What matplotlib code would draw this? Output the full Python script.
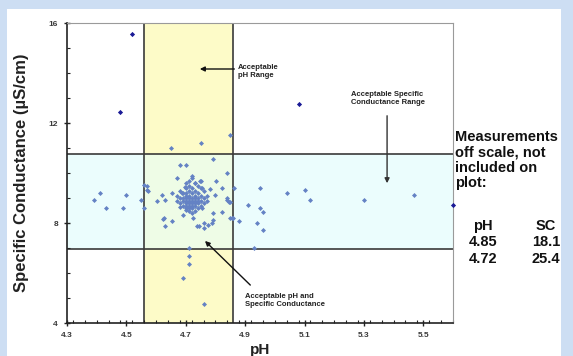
import matplotlib
matplotlib.use("Agg")
import matplotlib.pyplot as plt
from matplotlib.patches import Rectangle
from matplotlib.ticker import MultipleLocator, FixedLocator

plt.rcParams['font.family'] = ['Liberation Sans', 'DejaVu Sans']

# ---------------- data ----------------
ph_range = [4.56, 4.86]          # acceptable pH range
sc_range = [6.95, 10.77]         # acceptable specific conductance range

x_ticks = [4.3, 4.5, 4.7, 4.9, 5.1, 5.3, 5.5]
x_labels = ["4.3", "4.5", "4.7", "4.9", "5.1", "5.3", "5.5"]
y_ticks = [4, 8, 12, 16]
y_labels = ["4", "8", "12", "16"]

# dense cluster columns
cluster_ph = ([4.70] * 9 + [4.71] * 10 + [4.72] * 9 + [4.73] * 8 + [4.74] * 6 +
              [4.75] * 5 + [4.69] * 4 + [4.68] * 3 + [4.67] * 2 + [4.76] * 3 + [4.77] * 2)
cluster_sc = ([8.6, 8.7, 8.8, 8.9, 9.0, 9.1, 9.2, 9.4, 9.6] +
              [8.5, 8.6, 8.7, 8.8, 8.9, 9.0, 9.1, 9.3, 9.5, 9.7] +
              [8.4, 8.6, 8.7, 8.8, 8.9, 9.0, 9.2, 9.4, 9.8] +
              [8.5, 8.7, 8.8, 8.9, 9.0, 9.1, 9.3, 9.6] +
              [8.6, 8.8, 8.9, 9.0, 9.2, 9.5] +
              [8.7, 8.9, 9.1, 9.4, 9.7] +
              [8.7, 8.9, 9.0, 9.2] +
              [8.8, 9.0, 9.3] +
              [8.9, 9.1] +
              [8.8, 9.0, 9.3] +
              [8.9, 9.1])

scatter_ph = [4.687, 4.653, 4.799, 4.838, 4.63, 4.844, 4.68, 4.70, 4.754, 4.793,
              4.821, 4.625, 4.653, 4.69, 4.726, 4.76, 4.79, 4.855, 4.63, 4.737,
              4.746, 4.763, 4.776, 4.793, 4.622, 4.602, 4.619, 4.569, 4.574, 4.698,
              4.754, 4.782, 4.821, 4.672, 4.722, 4.749, 4.731, 4.802, 4.840, 4.681,
              4.701, 4.791,
              4.65, 4.75, 4.85,
              4.71, 4.71, 4.71, 4.69, 4.76,
              4.41, 4.39, 4.43, 4.50, 4.49, 4.55, 4.56, 4.57, 4.56,
              4.95, 5.04, 5.10, 5.12, 5.30, 5.47, 4.91, 4.95, 4.96, 4.94,
              4.96, 4.93, 4.863, 4.85, 4.86, 4.88, 4.84, 4.85]
scatter_sc = [9.21, 9.19, 9.12, 8.99, 8.92, 8.85, 8.65, 8.52, 8.59, 8.39,
              8.45, 8.19, 8.09, 8.32, 8.19, 7.99, 7.99, 8.19, 7.88, 7.89,
              7.89, 7.79, 7.92, 8.12, 8.16, 8.89, 9.12, 9.48, 9.29, 9.43,
              9.39, 9.35, 9.40, 9.79, 9.89, 9.68, 9.59, 9.68, 9.99, 10.32,
              10.32, 10.56,
              11.01, 11.21, 11.52,
              7.01, 6.69, 6.37, 5.81, 4.77,
              9.21, 8.91, 8.61, 9.11, 8.61, 8.91, 9.51, 9.31, 8.61,
              9.41, 9.21, 9.31, 8.91, 8.91, 9.11, 8.72, 8.61, 8.43, 8.01,
              7.71, 7.00, 9.41, 8.19, 8.19, 8.09, 8.92, 8.85]

outlier_ph = [4.52, 4.48, 5.08, 5.60]
outlier_sc = [15.56, 12.44, 12.76, 8.72]

offscale_ph = ["4.85", "4.72"]
offscale_sc = ["18.1", "25.4"]

# ---------------- figure ----------------
W, H = 573, 356
fig = plt.figure(figsize=(W / 100, H / 100), dpi=100)
fig.patch.set_facecolor('#cddef3')
fig.patches.append(Rectangle((7 / W, 0), (561 - 7) / W, 1 - 9 / H,
                             transform=fig.transFigure, facecolor='white',
                             edgecolor='none', zorder=-10))

ax = fig.add_axes([67 / W, 1 - 323 / H, (453 - 67) / W, (323 - 23) / H])
ax.set_zorder(5)
ax.set_facecolor('white')
ax.set_xlim(4.3, 5.6)
ax.set_ylim(4, 16)

# bands
ax.axhspan(sc_range[0], sc_range[1], facecolor='#ebfdfd', edgecolor='none', zorder=0)
ax.axvspan(ph_range[0], ph_range[1], facecolor='#fdfbc8', edgecolor='none', zorder=0.5)
ax.add_patch(Rectangle((ph_range[0], sc_range[0]), ph_range[1] - ph_range[0],
                       sc_range[1] - sc_range[0], facecolor='#eefce6',
                       edgecolor='none', zorder=0.6))
for v in ph_range:
    ax.axvline(v, color='#3a3a3a', lw=1.2, zorder=1)
for v in sc_range:
    ax.axhline(v, color='#3a3a3a', lw=1.2, zorder=1)

# points
ax.scatter(cluster_ph + scatter_ph, cluster_sc + scatter_sc, marker='D', s=6.5,
           color='#6482c4', linewidths=0, zorder=3)
ax.scatter(outlier_ph, outlier_sc, marker='D', s=7, color='#1a1a96',
           linewidths=0, zorder=3, clip_on=False)

# axes styling
for s in ['left', 'bottom']:
    ax.spines[s].set_color('#222222')
    ax.spines[s].set_linewidth(1.2)
for s in ['top', 'right']:
    ax.spines[s].set_color('#9a9a9a')
    ax.spines[s].set_linewidth(0.8)

ax.xaxis.set_major_locator(FixedLocator(x_ticks))
ax.set_xticklabels(x_labels)
ax.xaxis.set_minor_locator(MultipleLocator(0.04))
ax.yaxis.set_major_locator(FixedLocator(y_ticks))
ax.set_yticklabels(y_labels)
ax.yaxis.set_minor_locator(MultipleLocator(1))
ax.tick_params(which='major', direction='inout', length=5, width=1, color='#222222',
               labelsize=6, labelcolor='#3a3a3a', pad=4)
ax.tick_params(which='minor', direction='in', length=2.5, width=0.8, color='#222222')
for lab in ax.get_xticklabels() + ax.get_yticklabels():
    lab.set_fontweight('bold')

ax.set_xlabel('pH', fontsize=11, fontweight='bold', color='#222222', labelpad=3)
ax.set_ylabel('Specific Conductance (µS/cm)', fontsize=12, fontweight='bold',
              color='#222222', labelpad=14)

# annotations
akw = dict(fontsize=5.5, fontweight='bold', color='#222222')
ax.annotate('', xy=(4.738, 14.16), xytext=(4.873, 14.16),
            arrowprops=dict(arrowstyle='-|>', color='#111111', lw=1, mutation_scale=7))
ax.text(4.875, 14.08, 'Acceptable\npH Range', ha='left', va='center', **akw)

ax.text(5.257, 13.0, 'Acceptable Specific\nConductance Range', ha='left', va='center', **akw)
ax.annotate('', xy=(5.378, 9.48), xytext=(5.378, 12.4),
            arrowprops=dict(arrowstyle='-|>', color='#333333', lw=1, mutation_scale=7))

ax.text(4.9, 4.9, 'Acceptable pH and\nSpecific Conductance', ha='left', va='center', **akw)
ax.annotate('', xy=(4.758, 7.36), xytext=(4.924, 5.44),
            arrowprops=dict(arrowstyle='-|>', color='#111111', lw=1, mutation_scale=7))

# right side text
fig.text(455 / W, 1 - 130 / H, 'Measurements\noff scale, not\nincluded on\nplot:',
         ha='left', va='top', fontsize=10.5, fontweight='bold', color='#111111',
         linespacing=1.12)
fig.text(483 / W, 1 - 226 / H, 'pH', ha='center', va='center', fontsize=10.5,
         fontweight='bold', color='#111111')
fig.text(546 / W, 1 - 226 / H, 'SC', ha='center', va='center', fontsize=10.5,
         fontweight='bold', color='#111111')
for i, (p, c) in enumerate(zip(offscale_ph, offscale_sc)):
    y = 1 - (242 + 17 * i) / H
    fig.text(483 / W, y, p, ha='center', va='center', fontsize=10.5,
             fontweight='bold', color='#111111')
    fig.text(546 / W, y, c, ha='center', va='center', fontsize=10.5,
             fontweight='bold', color='#111111')

fig.savefig('out.png', dpi=100)
